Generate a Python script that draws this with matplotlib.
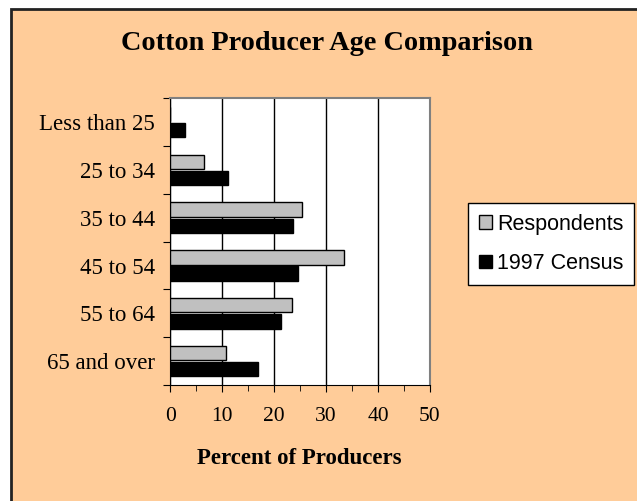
import numpy as np
import matplotlib
matplotlib.use("Agg")
import matplotlib.pyplot as plt
from matplotlib.patches import Rectangle

# data
categories = ["Less than 25", "25 to 34", "35 to 44", "45 to 54", "55 to 64", "65 and over"]
respondents = [0, 6.5, 25.4, 33.5, 23.5, 10.8]
census_1997 = [2.8, 11.2, 23.6, 24.7, 21.3, 17.0]

bg = "#FFCC99"
serif = ["Liberation Serif", "DejaVu Serif"]

fig = plt.figure(figsize=(6.37, 5.01), dpi=100, facecolor="white")
# peach chart area, cropped on the right and bottom, border only on top/left
x0, y1 = 10.5 / 637, 1 - 8.5 / 501
fig.patches.append(Rectangle((x0, -0.05), 1.1, y1 + 0.05, transform=fig.transFigure,
                             facecolor=bg, edgecolor="#222222", linewidth=2.0, zorder=-1))
ax = fig.add_axes([0.267, 0.2315, 0.408, 0.5725])
ax.set_zorder(1)
ax.set_facecolor("white")

y = np.arange(len(categories))
h = 0.3
ax.barh(y - h / 2 - 0.02, respondents, height=h, color="#C0C0C0", edgecolor="black",
        linewidth=1.0, label="Respondents", zorder=3)
ax.barh(y + h / 2 + 0.02, census_1997, height=h, color="black", edgecolor="black",
        linewidth=1.0, label="1997 Census", zorder=3)

ax.set_ylim(len(categories) - 0.5, -0.5)
ax.set_xlim(0, 50)
ax.set_xticks(np.arange(0, 51, 10))
ax.set_xticks(np.arange(5, 50, 10), minor=True)
ax.xaxis.grid(True, color="black", linewidth=1.0, zorder=0)
ax.tick_params(axis="x", which="both", direction="out", length=5, labelsize=15.5, pad=11)
ax.tick_params(axis="x", which="minor", length=4)

# category labels between boundary ticks (Excel style)
ax.set_yticks(np.arange(-0.5, len(categories), 1.0))
ax.set_yticklabels([])
ax.set_yticks(y, minor=True)
ax.set_yticklabels(categories, minor=True)
ax.tick_params(axis="y", which="major", direction="out", length=5)
ax.tick_params(axis="y", which="minor", length=0, labelsize=16.5, pad=11)

for lab in ax.get_xticklabels() + ax.get_yticklabels(minor=True):
    lab.set_fontfamily(serif)

for s in ["top", "right"]:
    ax.spines[s].set_color("#808080")
    ax.spines[s].set_linewidth(1.5)
for s in ["left", "bottom"]:
    ax.spines[s].set_color("black")

fig.text(0.513, 0.913, "Cotton Producer Age Comparison", ha="center", va="center",
         fontsize=20.3, fontweight="bold", family=serif)
fig.text(0.470, 0.085, "Percent of Producers", ha="center", va="center",
         fontsize=16.5, fontweight="bold", family=serif)

leg = fig.legend(loc="upper left", bbox_to_anchor=(0.735, 0.595), frameon=True,
                 fancybox=False, edgecolor="black", facecolor="white", framealpha=1,
                 prop={"family": ["Liberation Sans", "DejaVu Sans"], "size": 15.5},
                 handlelength=0.6, handleheight=0.6, handletextpad=0.25,
                 labelspacing=0.85, borderpad=0.5, borderaxespad=0)
leg.get_frame().set_linewidth(1.0)

fig.savefig("out.png", dpi=100, facecolor="white")
